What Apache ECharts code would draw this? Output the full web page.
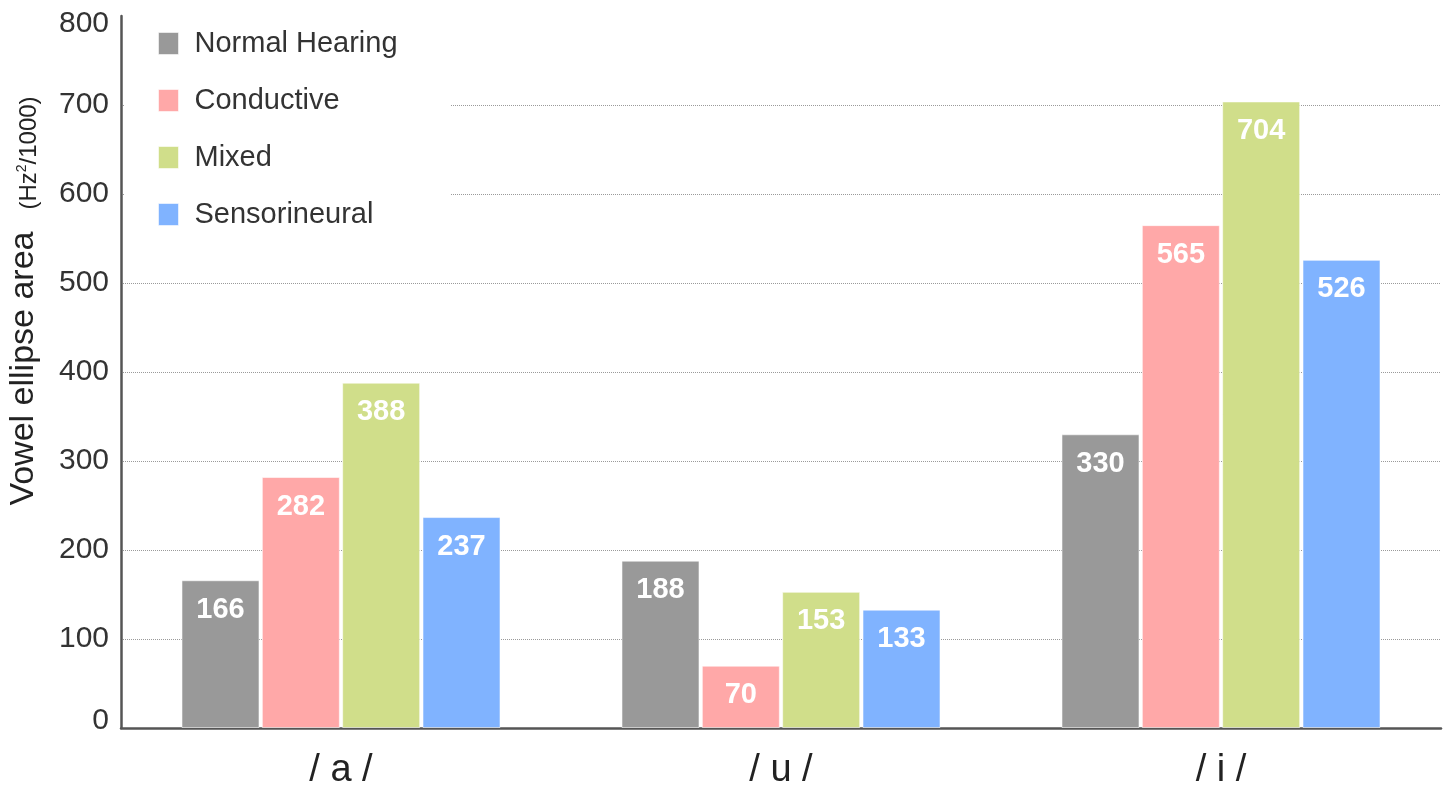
<!DOCTYPE html>
<html>
<head>
<meta charset="utf-8">
<script src="https://cdn.jsdelivr.net/npm/echarts@6/dist/echarts.min.js"></script>
<style>
  html, body { margin: 0; padding: 0; background: #fff; }
  #chart { width: 1443px; height: 786px; }
</style>
</head>
<body>
<div id="chart"></div>
<script>
// Vowel ellipse area by hearing group
var vowels = ['/ a /', '/ u /', '/ i /'];
var groups = ['Normal Hearing', 'Conductive', 'Mixed', 'Sensorineural'];
var colors = ['#999999', '#FFA8A8', '#D0DE8A', '#80B3FF'];

var normalHearing = [166, 188, 330];
var conductive    = [282, 70, 565];
var mixed         = [388, 153, 704];
var sensorineural = [237, 133, 526];
var groupValues = [normalHearing, conductive, mixed, sensorineural];

var yMin = 0, yMax = 800, yStep = 100;

var FONT = '"Liberation Sans", Arial, Helvetica, sans-serif';

var chart = echarts.init(document.getElementById('chart'));

var series = groups.map(function (name, i) {
  return {
    name: name,
    type: 'bar',
    data: groupValues[i],
    barWidth: 78,
    barGap: '3%',
    itemStyle: {
      color: colors[i],
      borderColor: 'rgba(255,255,255,0.55)',
      borderWidth: 1
    },
    label: {
      show: true,
      position: 'insideTop',
      distance: 15,
      color: '#ffffff',
      fontFamily: FONT,
      fontWeight: 'bold',
      fontSize: 29
    }
  };
});

chart.setOption({
  animation: false,
  backgroundColor: '#ffffff',
  textStyle: { fontFamily: FONT },
  grid: { left: 121, right: 2, top: 16, bottom: 58, containLabel: false, outerBoundsMode: 'none' },
  legend: {
    orient: 'vertical',
    left: 124,
    top: 12,
    padding: [17, 53, 22, 34],
    backgroundColor: '#ffffff',
    itemWidth: 20,
    itemHeight: 22,
    itemGap: 28,
    icon: 'rect',
    itemStyle: { borderColor: 'rgba(255,255,255,0.55)', borderWidth: 1 },
    textStyle: { color: '#333333', fontSize: 29, fontFamily: FONT, padding: [0, 0, 0, 11] },
    data: groups
  },
  xAxis: {
    type: 'category',
    data: vowels,
    axisTick: { show: false },
    axisLine: { lineStyle: { color: '#555555', width: 2.5 } },
    axisLabel: { color: '#222222', fontSize: 38, fontFamily: FONT, margin: 24 }
  },
  yAxis: {
    type: 'value',
    min: yMin,
    max: yMax,
    interval: yStep,
    name: '{main|Vowel ellipse area}{gap|}{small|(Hz}{sup|2}{small|/1000)}',
    nameLocation: 'middle',
    nameRotate: 90,
    nameGap: 80,
    nameTextStyle: {
      padding: [0, 0, 0, 142],
      rich: {
        main: { fontSize: 34, color: '#222222', fontFamily: FONT, verticalAlign: 'bottom' },
        gap: { width: 22 },
        small: { fontSize: 24, color: '#222222', fontFamily: FONT, verticalAlign: 'bottom' },
        sup: { fontSize: 14, color: '#222222', fontFamily: FONT, verticalAlign: 'bottom', padding: [0, 0, 12, 0] }
      }
    },
    axisLine: { show: true, lineStyle: { color: '#555555', width: 2.5 } },
    axisTick: { show: false },
    axisLabel: {
      color: '#333333',
      fontSize: 30,
      fontFamily: FONT,
      margin: 12,
      // end labels sit slightly inside the axis range
      formatter: function (v) {
        if (v === yMin) return '{lo|' + v + '}';
        if (v === yMax) return '{hi|' + v + '}';
        return '' + v;
      },
      rich: {
        lo: { fontSize: 30, color: '#333333', fontFamily: FONT, padding: [0, 0, 14, 0] },
        hi: { fontSize: 30, color: '#333333', fontFamily: FONT, padding: [16, 0, 0, 0] }
      }
    },
    splitLine: {
      show: true,
      showMaxLine: false,
      lineStyle: { color: '#9a9a9a', type: 'dotted', width: 1 }
    }
  },
  series: series
});
</script>
</body>
</html>
